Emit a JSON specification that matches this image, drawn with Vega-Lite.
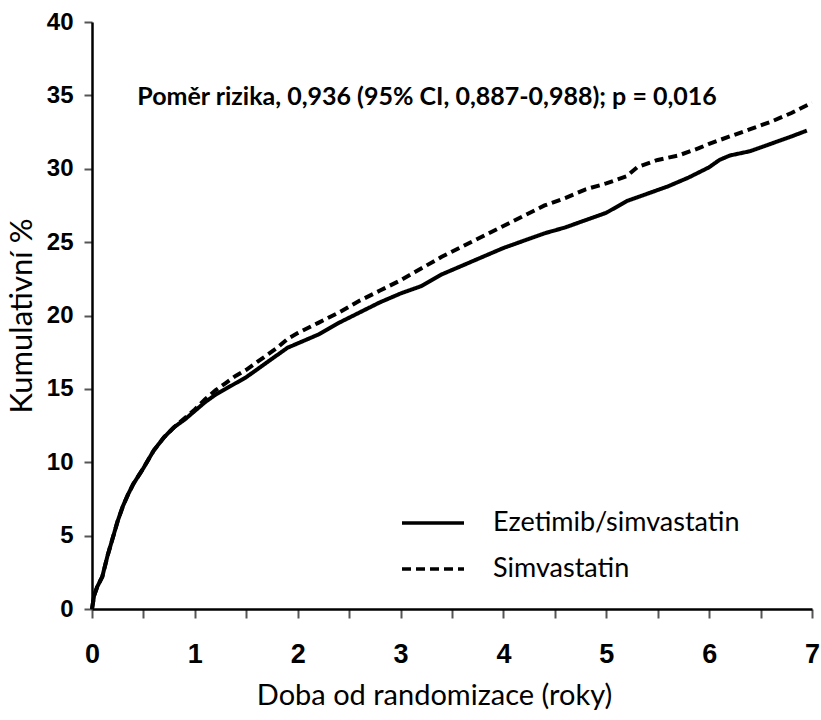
{
  "$schema": "https://vega.github.io/schema/vega-lite/v6.json",
  "width": 720,
  "height": 587,
  "autosize": {"type": "none"},
  "padding": {"left": 92, "top": 22, "right": 9, "bottom": 111},
  "background": "white",
  "config": {"view": {"stroke": null}, "font": "Liberation Sans"},
  "datasets": {
    "curves": [
      {"t": 0, "v": 0, "s": "Ezetimib/simvastatin"},
      {"t": 0.02, "v": 0.9, "s": "Ezetimib/simvastatin"},
      {"t": 0.05, "v": 1.5, "s": "Ezetimib/simvastatin"},
      {"t": 0.1, "v": 2.2, "s": "Ezetimib/simvastatin"},
      {"t": 0.15, "v": 3.6, "s": "Ezetimib/simvastatin"},
      {"t": 0.2, "v": 4.8, "s": "Ezetimib/simvastatin"},
      {"t": 0.25, "v": 6.0, "s": "Ezetimib/simvastatin"},
      {"t": 0.3, "v": 7.0, "s": "Ezetimib/simvastatin"},
      {"t": 0.35, "v": 7.8, "s": "Ezetimib/simvastatin"},
      {"t": 0.4, "v": 8.5, "s": "Ezetimib/simvastatin"},
      {"t": 0.5, "v": 9.6, "s": "Ezetimib/simvastatin"},
      {"t": 0.6, "v": 10.8, "s": "Ezetimib/simvastatin"},
      {"t": 0.7, "v": 11.7, "s": "Ezetimib/simvastatin"},
      {"t": 0.8, "v": 12.4, "s": "Ezetimib/simvastatin"},
      {"t": 0.9, "v": 12.9, "s": "Ezetimib/simvastatin"},
      {"t": 1.0, "v": 13.5, "s": "Ezetimib/simvastatin"},
      {"t": 1.1, "v": 14.1, "s": "Ezetimib/simvastatin"},
      {"t": 1.2, "v": 14.6, "s": "Ezetimib/simvastatin"},
      {"t": 1.3, "v": 15.0, "s": "Ezetimib/simvastatin"},
      {"t": 1.4, "v": 15.4, "s": "Ezetimib/simvastatin"},
      {"t": 1.5, "v": 15.8, "s": "Ezetimib/simvastatin"},
      {"t": 1.6, "v": 16.3, "s": "Ezetimib/simvastatin"},
      {"t": 1.7, "v": 16.8, "s": "Ezetimib/simvastatin"},
      {"t": 1.8, "v": 17.3, "s": "Ezetimib/simvastatin"},
      {"t": 1.9, "v": 17.8, "s": "Ezetimib/simvastatin"},
      {"t": 2.0, "v": 18.1, "s": "Ezetimib/simvastatin"},
      {"t": 2.2, "v": 18.7, "s": "Ezetimib/simvastatin"},
      {"t": 2.4, "v": 19.5, "s": "Ezetimib/simvastatin"},
      {"t": 2.6, "v": 20.2, "s": "Ezetimib/simvastatin"},
      {"t": 2.8, "v": 20.9, "s": "Ezetimib/simvastatin"},
      {"t": 3.0, "v": 21.5, "s": "Ezetimib/simvastatin"},
      {"t": 3.2, "v": 22.0, "s": "Ezetimib/simvastatin"},
      {"t": 3.4, "v": 22.8, "s": "Ezetimib/simvastatin"},
      {"t": 3.6, "v": 23.4, "s": "Ezetimib/simvastatin"},
      {"t": 3.8, "v": 24.0, "s": "Ezetimib/simvastatin"},
      {"t": 4.0, "v": 24.6, "s": "Ezetimib/simvastatin"},
      {"t": 4.2, "v": 25.1, "s": "Ezetimib/simvastatin"},
      {"t": 4.4, "v": 25.6, "s": "Ezetimib/simvastatin"},
      {"t": 4.6, "v": 26.0, "s": "Ezetimib/simvastatin"},
      {"t": 4.8, "v": 26.5, "s": "Ezetimib/simvastatin"},
      {"t": 5.0, "v": 27.0, "s": "Ezetimib/simvastatin"},
      {"t": 5.2, "v": 27.8, "s": "Ezetimib/simvastatin"},
      {"t": 5.4, "v": 28.3, "s": "Ezetimib/simvastatin"},
      {"t": 5.6, "v": 28.8, "s": "Ezetimib/simvastatin"},
      {"t": 5.8, "v": 29.4, "s": "Ezetimib/simvastatin"},
      {"t": 6.0, "v": 30.1, "s": "Ezetimib/simvastatin"},
      {"t": 6.1, "v": 30.6, "s": "Ezetimib/simvastatin"},
      {"t": 6.2, "v": 30.9, "s": "Ezetimib/simvastatin"},
      {"t": 6.4, "v": 31.2, "s": "Ezetimib/simvastatin"},
      {"t": 6.6, "v": 31.7, "s": "Ezetimib/simvastatin"},
      {"t": 6.8, "v": 32.2, "s": "Ezetimib/simvastatin"},
      {"t": 6.95, "v": 32.6, "s": "Ezetimib/simvastatin"},
      {"t": 0, "v": 0, "s": "Simvastatin"},
      {"t": 0.02, "v": 0.9, "s": "Simvastatin"},
      {"t": 0.05, "v": 1.5, "s": "Simvastatin"},
      {"t": 0.1, "v": 2.2, "s": "Simvastatin"},
      {"t": 0.15, "v": 3.6, "s": "Simvastatin"},
      {"t": 0.2, "v": 4.8, "s": "Simvastatin"},
      {"t": 0.25, "v": 6.0, "s": "Simvastatin"},
      {"t": 0.3, "v": 7.0, "s": "Simvastatin"},
      {"t": 0.35, "v": 7.8, "s": "Simvastatin"},
      {"t": 0.4, "v": 8.5, "s": "Simvastatin"},
      {"t": 0.5, "v": 9.6, "s": "Simvastatin"},
      {"t": 0.6, "v": 10.8, "s": "Simvastatin"},
      {"t": 0.7, "v": 11.7, "s": "Simvastatin"},
      {"t": 0.8, "v": 12.4, "s": "Simvastatin"},
      {"t": 0.9, "v": 13.0, "s": "Simvastatin"},
      {"t": 1.0, "v": 13.6, "s": "Simvastatin"},
      {"t": 1.1, "v": 14.3, "s": "Simvastatin"},
      {"t": 1.2, "v": 14.9, "s": "Simvastatin"},
      {"t": 1.3, "v": 15.4, "s": "Simvastatin"},
      {"t": 1.4, "v": 15.9, "s": "Simvastatin"},
      {"t": 1.5, "v": 16.3, "s": "Simvastatin"},
      {"t": 1.6, "v": 16.8, "s": "Simvastatin"},
      {"t": 1.7, "v": 17.3, "s": "Simvastatin"},
      {"t": 1.8, "v": 17.8, "s": "Simvastatin"},
      {"t": 1.9, "v": 18.4, "s": "Simvastatin"},
      {"t": 2.0, "v": 18.8, "s": "Simvastatin"},
      {"t": 2.2, "v": 19.5, "s": "Simvastatin"},
      {"t": 2.4, "v": 20.2, "s": "Simvastatin"},
      {"t": 2.6, "v": 21.0, "s": "Simvastatin"},
      {"t": 2.8, "v": 21.7, "s": "Simvastatin"},
      {"t": 3.0, "v": 22.4, "s": "Simvastatin"},
      {"t": 3.2, "v": 23.2, "s": "Simvastatin"},
      {"t": 3.4, "v": 24.0, "s": "Simvastatin"},
      {"t": 3.6, "v": 24.7, "s": "Simvastatin"},
      {"t": 3.8, "v": 25.4, "s": "Simvastatin"},
      {"t": 4.0, "v": 26.1, "s": "Simvastatin"},
      {"t": 4.2, "v": 26.8, "s": "Simvastatin"},
      {"t": 4.4, "v": 27.5, "s": "Simvastatin"},
      {"t": 4.6, "v": 28.0, "s": "Simvastatin"},
      {"t": 4.8, "v": 28.6, "s": "Simvastatin"},
      {"t": 5.0, "v": 29.0, "s": "Simvastatin"},
      {"t": 5.2, "v": 29.5, "s": "Simvastatin"},
      {"t": 5.3, "v": 30.1, "s": "Simvastatin"},
      {"t": 5.5, "v": 30.6, "s": "Simvastatin"},
      {"t": 5.7, "v": 30.9, "s": "Simvastatin"},
      {"t": 5.9, "v": 31.4, "s": "Simvastatin"},
      {"t": 6.0, "v": 31.7, "s": "Simvastatin"},
      {"t": 6.2, "v": 32.2, "s": "Simvastatin"},
      {"t": 6.4, "v": 32.7, "s": "Simvastatin"},
      {"t": 6.6, "v": 33.2, "s": "Simvastatin"},
      {"t": 6.8, "v": 33.8, "s": "Simvastatin"},
      {"t": 7.0, "v": 34.5, "s": "Simvastatin"}
    ],
    "note": [{"label": "Poměr rizika, 0,936 (95% CI, 0,887-0,988); p = 0,016"}]
  },
  "layer": [
    {
      "data": {"name": "curves"},
      "mark": {"type": "line", "strokeWidth": 4, "color": "black"},
      "encoding": {
        "x": {
          "field": "t", "type": "quantitative",
          "scale": {"domain": [0, 7], "nice": false},
          "axis": {
            "values": [0, 0.5, 1, 1.5, 2, 2.5, 3, 3.5, 4, 4.5, 5, 5.5, 6, 6.5, 7],
            "format": "~g",
            "labelExpr": "datum.value % 1 === 0 ? datum.label : ''",
            "labelOverlap": false, "labelFlush": false,
            "grid": false, "ticks": true,
            "domainColor": "black", "domainWidth": 2.5,
            "tickColor": "#555", "tickWidth": 2, "tickSize": 9,
            "labelFont": "Liberation Sans", "labelFontWeight": "bold", "labelFontSize": 27, "labelColor": "black",
            "labelPadding": 23,
            "title": "Doba od randomizace (roky)",
            "titleFont": "Lato", "titleFontWeight": "normal", "titleFontSize": 29, "titleColor": "black",
            "titlePadding": 14, "titleX": 342
          }
        },
        "y": {
          "field": "v", "type": "quantitative",
          "scale": {"domain": [0, 40], "nice": false},
          "axis": {
            "values": [0, 2.5, 5, 7.5, 10, 12.5, 15, 17.5, 20, 22.5, 25, 27.5, 30, 32.5, 35, 37.5, 40],
            "format": "~g",
            "labelExpr": "datum.value % 5 === 0 ? datum.label : ''",
            "labelOverlap": false, "labelFlush": false,
            "grid": false, "ticks": true,
            "domainColor": "black", "domainWidth": 2.5,
            "tickColor": "#555", "tickWidth": 2, "tickSize": 8,
            "labelFont": "Liberation Sans", "labelFontWeight": "bold", "labelFontSize": 24, "labelColor": "black",
            "labelPadding": 11,
            "title": "Kumulativní %",
            "titleFont": "Lato", "titleFontWeight": "normal", "titleFontSize": 31, "titleColor": "black",
            "titlePadding": 8
          }
        },
        "strokeDash": {
          "field": "s", "type": "nominal",
          "scale": {"domain": ["Ezetimib/simvastatin", "Simvastatin"], "range": [[1, 0], [9, 5]]},
          "legend": {
            "orient": "none", "legendX": 308, "legendY": 468,
            "title": null, "padding": 0,
            "symbolType": "stroke", "symbolSize": 3844, "symbolStrokeWidth": 3.5, "symbolStrokeColor": "black",
            "labelFont": "Lato", "labelFontSize": 27, "labelColor": "black", "labelOffset": 27, "labelLimit": 0,
            "rowPadding": -23
          }
        }
      }
    },
    {
      "data": {"name": "note"},
      "mark": {"type": "text", "align": "left", "baseline": "middle", "font": "Lato", "fontWeight": "bold", "fontSize": 25, "color": "black"},
      "encoding": {
        "x": {"datum": 0.44, "type": "quantitative"},
        "y": {"datum": 34.9, "type": "quantitative"},
        "text": {"field": "label"}
      }
    }
  ]
}
